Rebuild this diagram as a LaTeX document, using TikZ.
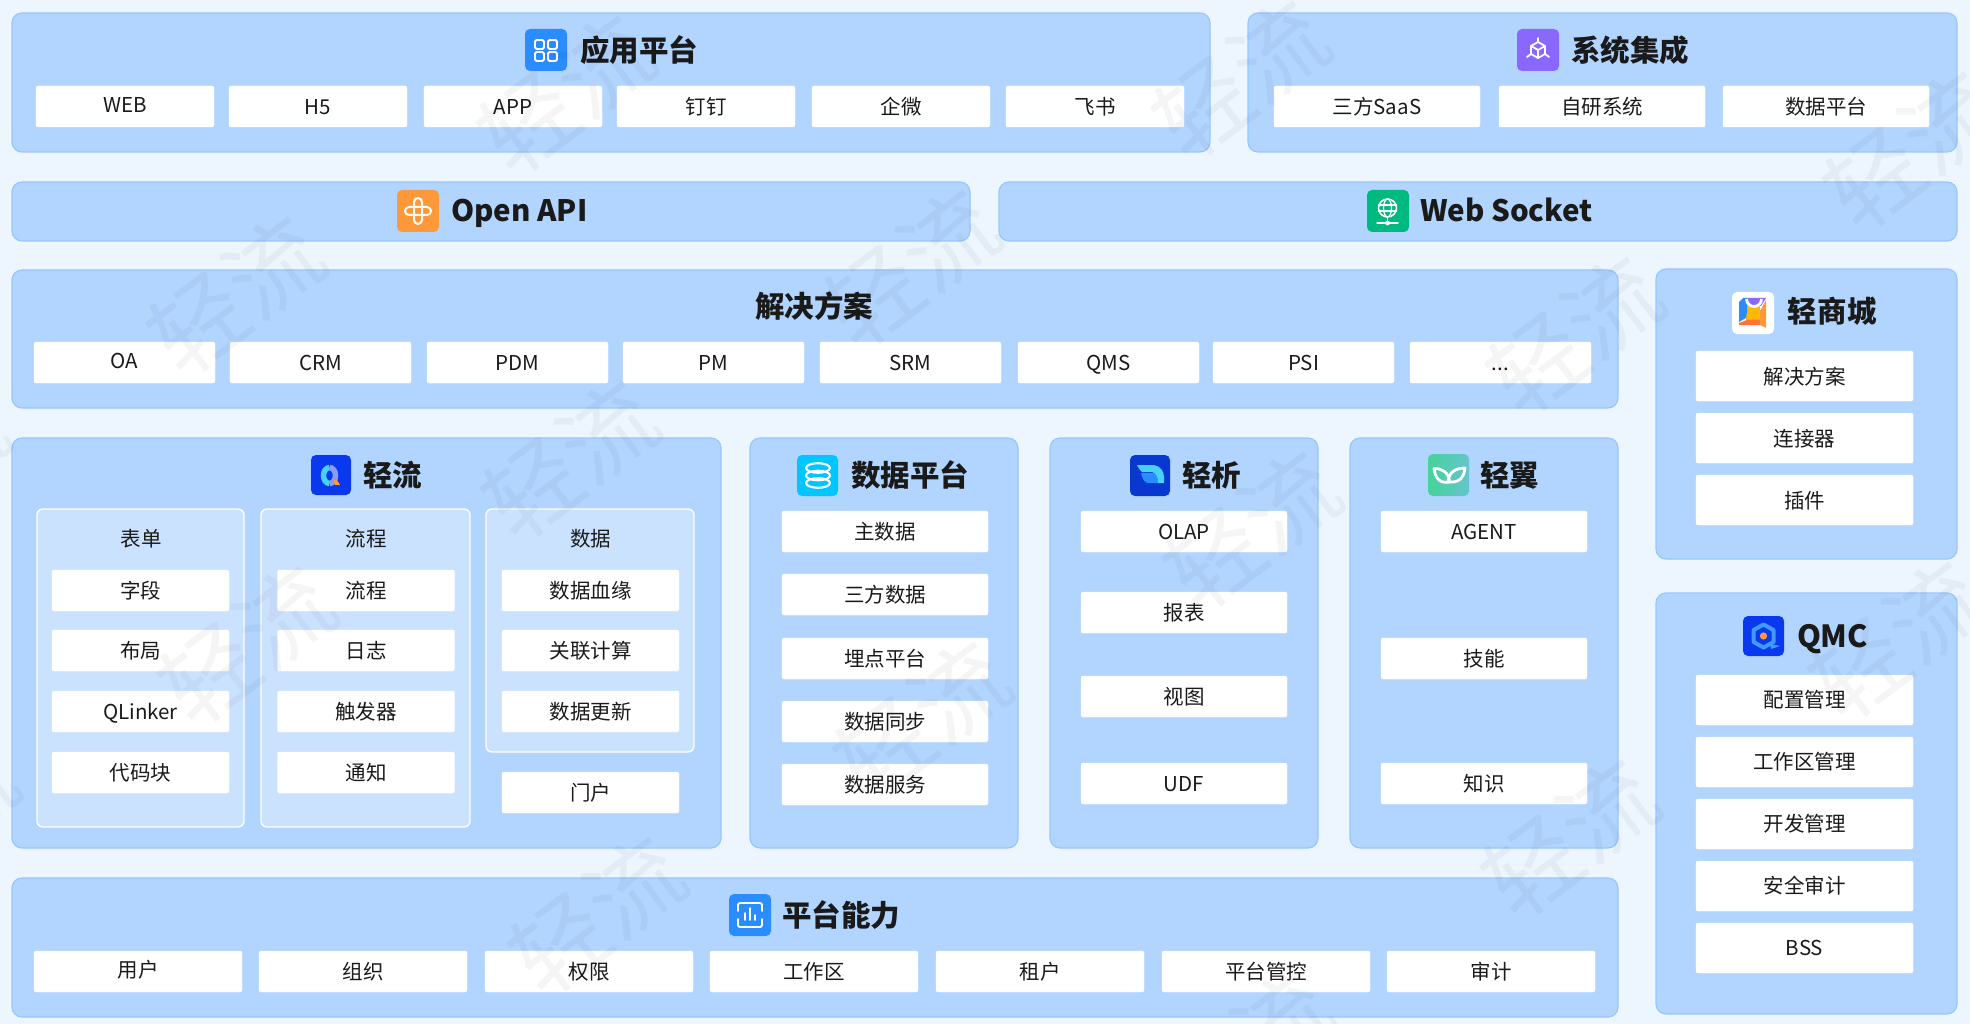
\documentclass[tikz,border=0pt]{standalone}
\usepackage{fontspec}
\setmainfont{Noto Sans CJK SC}
\definecolor{pagebg}{HTML}{EDF5FF}
\definecolor{panelfill}{HTML}{B2D5FF}
\definecolor{panelline}{HTML}{96C6FF}
\definecolor{subfill}{HTML}{CBE2FF}
\definecolor{inkdark}{HTML}{1A1A1A}
\definecolor{blueicon}{HTML}{2A8CFF}
\definecolor{purpleicon}{HTML}{8A68FF}
\definecolor{orangeicon}{HTML}{FF9838}
\definecolor{greenicon}{HTML}{00B97F}
\definecolor{cyanicon}{HTML}{00C6FF}
\definecolor{deepicon}{HTML}{0A38EE}
\definecolor{navyicon}{HTML}{0838D0}
\definecolor{skyicon}{HTML}{45D2F6}
\definecolor{lilacicon}{HTML}{8A9BF6}
\definecolor{yellowicon}{HTML}{FFB800}
\definecolor{redicon}{HTML}{FF7435}
\definecolor{hexicon}{HTML}{3F9BFF}
\definecolor{wingleft}{HTML}{45D39A}
\definecolor{wingright}{HTML}{66C4CC}
\newcommand{\moredots}{...}
\newcommand{\upnudge}[1]{\raisebox{1.5pt}{#1}}
\newcommand{\downnudge}[1]{\raisebox{-1pt}{#1}}
\tikzset{
    panelbox/.style={draw=panelline,fill=panelfill,line width=1.2pt,rounded corners=10pt},
    subbox/.style={draw=white,fill=subfill,line width=1.3pt,rounded corners=6pt},
    itembox/.style={fill=white,draw=white,line width=0.4pt,rounded corners=2pt,inner sep=0pt,outer sep=0pt,
        text=inkdark,font=\fontsize{20.5}{20.5}\selectfont,text height=15.2pt,text depth=0pt,align=center},
    titletext/.style={anchor=west,inner sep=0pt,outer sep=0pt,text=inkdark,
        font=\bfseries\fontsize{29.5}{29.5}\selectfont,text height=22pt,text depth=0pt},
    subtitle/.style={inner sep=0pt,text=inkdark,font=\fontsize{20.5}{20.5}\selectfont,text height=15.2pt,text depth=0pt},
    iconbg/.style={rounded corners=5pt},
    iconline/.style={draw=white,line width=1.8pt,line cap=round,line join=round},
    wmark/.style={rotate=37,inner sep=0pt,text=black,text opacity=0.04,font=\fontsize{94}{94}\selectfont}
}
\begin{document}
\begin{tikzpicture}[x=1pt,y=-1pt]
    \useasboundingbox (0,0) rectangle (1970,1024);
    \clip (0,0) rectangle (1970,1024);
    \fill[pagebg] (0,0) rectangle (1970,1024);
    \foreach \xa/\ya/\xb/\yb in {12/13/1210/152,1248/13/1957/152,12/182/970/241,999/182/1957/241,
        12/270/1618/408,1656/269/1957/559,12/438/721/848,750/438/1018/848,1050/438/1318/848,
        1350/438/1618/848,1656/593/1957/1014,12/878/1618/1017} {
        \draw[panelbox] (\xa,\ya) rectangle (\xb,\yb);
    }
    \foreach \xa/\xb/\yb in {37/244/827,261/470/827,486/694/752} {
        \draw[subbox] (\xa,509) rectangle (\xb,\yb);
    }
    % top rows
    \foreach \nm/\x/\lab in {web/36/\upnudge{WEB},hfive/229/H5,app/424/APP,dingding/617/钉钉,qiwei/812/企微,feishu/1006/飞书} {
        \node[itembox,minimum width=178,minimum height=41] (\nm) at (\x+89,106.5) {\lab};
    }
    \foreach \nm/\x/\lab in {saas/1274/三方SaaS,ziyan/1499/自研系统,shuju/1723/数据平台} {
        \node[itembox,minimum width=206,minimum height=41] (\nm) at (\x+103,106.5) {\lab};
    }
    \foreach \nm/\x/\lab in {oa/34/\upnudge{OA},crm/230/CRM,pdm/427/PDM,pm/623/PM,srm/820/SRM,qms/1018/QMS,psi/1213/PSI,more/1410/\moredots} {
        \node[itembox,minimum width=181,minimum height=41] (\nm) at (\x+90.5,362.5) {\lab};
    }
    % qingliu columns
    \foreach \nm/\y/\lab in {ziduan/570/字段,buju/630/布局,qlinker/691/QLinker,daima/752/代码块} {
        \node[itembox,minimum width=177,minimum height=41] (\nm) at (140.5,\y+20.5) {\lab};
    }
    \foreach \nm/\y/\lab in {liuchengb/570/流程,rizhi/630/日志,chufa/691/触发器,tongzhi/752/通知} {
        \node[itembox,minimum width=177,minimum height=41] (\nm) at (366,\y+20.5) {\lab};
    }
    \foreach \nm/\y/\lab in {xueyuan/570/数据血缘,guanlian/630/关联计算,gengxin/691/数据更新,menhu/772/门户} {
        \node[itembox,minimum width=177,minimum height=41] (\nm) at (590.5,\y+20.5) {\lab};
    }
    \node[subtitle] (biaodan) at (141,538.5) {表单};
    \node[subtitle] (liucheng) at (366,538.5) {流程};
    \node[subtitle] (shujub) at (590.5,538.5) {数据};
    % middle columns
    \foreach \nm/\y/\lab in {zhushuju/511/主数据,sanfang/574/三方数据,maidian/638/埋点平台,tongbu/701/数据同步,fuwu/764/数据服务} {
        \node[itembox,minimum width=206,minimum height=41] (\nm) at (885,\y+20.5) {\lab};
    }
    \foreach \nm/\y/\lab in {olap/511/OLAP,baobiao/592/报表,shitu/676/视图,udf/763/UDF} {
        \node[itembox,minimum width=206,minimum height=41] (\nm) at (1184,\y+20.5) {\lab};
    }
    \foreach \nm/\y/\lab in {agent/511/AGENT,jineng/638/技能,zhishi/763/知识} {
        \node[itembox,minimum width=206,minimum height=41] (\nm) at (1484,\y+20.5) {\lab};
    }
    % right columns
    \foreach \nm/\y/\lab in {jiejue/351/\downnudge{解决方案},lianjie/413/\downnudge{连接器},chajian/475/\downnudge{插件},peizhi/675/配置管理,
        gongzuo/737/工作区管理,kaifa/799/开发管理,anquan/861/安全审计,bss/923/BSS} {
        \node[itembox,minimum width=217,minimum height=50] (\nm) at (1804.5,\y+25) {\lab};
    }
    % bottom row
    \foreach \nm/\x/\lab in {yonghu/34/\upnudge{用户},zuzhi/259/组织,quanxian/485/权限,gongzuoqu/710/工作区,zuhu/936/租户,guankong/1162/平台管控,shenji/1387/审计} {
        \node[itembox,minimum width=208,minimum height=41] (\nm) at (\x+104,971.5) {\lab};
    }
    % titles
    \node[titletext] (yingyong) at (580,51) {应用平台};
    \node[titletext] (jicheng) at (1571,51) {系统集成};
    \node[titletext] (openapi) at (451,211) {Open API};
    \node[titletext] (websocket) at (1420,211) {Web Socket};
    \node[titletext] (fangan) at (755,306) {解决方案};
    \node[titletext] (shangcheng) at (1787,312) {轻\hspace{1pt}商\hspace{1pt}城};
    \node[titletext] (qingliu) at (363,475) {轻流};
    \node[titletext] (pingtai) at (851,475) {数据平台};
    \node[titletext] (qingxi) at (1182,475) {轻析};
    \node[titletext] (qingyi) at (1480,475) {轻翼};
    \node[titletext,font=\bfseries\fontsize{30.5}{30.5}\selectfont] (qmc) at (1797,636) {QMC};
    \node[titletext] (nengli) at (782,915) {平台能力};
    % icons
    \begin{scope}[shift={(525,29)}]
        \fill[blueicon,iconbg] (0,0) rectangle (42,42);
        \foreach \ix in {10,23} {
            \foreach \iy in {11,23} {
                \draw[iconline,rounded corners=1.5pt] (\ix,\iy) rectangle (\ix+9,\iy+9);
            }
        }
    \end{scope}
    \begin{scope}[shift={(1517,29)}]
        \fill[purpleicon,iconbg] (0,0) rectangle (42,42);
        \draw[iconline] (21,13) -- (28,17) -- (28,25) -- (21,29) -- (14,25) -- (14,17) -- cycle;
        \draw[iconline] (14,17) -- (21,21) -- (28,17) (21,21) -- (21,29);
        \draw[iconline] (21,13) -- (21,9) (28,25) -- (32,28) (14,25) -- (10,28);
    \end{scope}
    \begin{scope}[shift={(397,190)}]
        \fill[orangeicon,iconbg] (0,0) rectangle (42,42);
        \draw[iconline,line width=2pt,rounded corners=4pt] (17,8) rectangle (25,34);
        \draw[iconline,line width=2pt,rounded corners=4pt] (8,17) rectangle (34,25);
    \end{scope}
    \begin{scope}[shift={(1367,190)}]
        \fill[greenicon,iconbg] (0,0) rectangle (42,42);
        \draw[iconline,line width=1.5pt] (20.5,18) circle (9);
        \draw[iconline,line width=1.3pt] (20.5,18) ellipse (4 and 9);
        \draw[iconline,line width=1.3pt] (11.5,15) -- (29.5,15) (11.5,21) -- (29.5,21);
        \draw[iconline,line width=1.5pt] (20.5,27) -- (20.5,33) (10,33) -- (31,33);
        \fill[white] (20.5,33) circle (2.4);
    \end{scope}
    \begin{scope}[shift={(1732,292)}]
        \fill[white,iconbg] (0,0) rectangle (42,42);
        \fill[yellowicon] (14,11) rectangle (28,28);
        \fill[blueicon] (7,10) -- (11,6) -- (15,6) -- (15,20) -- (14,26) -- (7,30) -- cycle;
        \fill[purpleicon] (15,6) -- (34,6) -- (29,14) -- (15,14) -- cycle;
        \fill[orangeicon] (34,8) -- (34,36) -- (28,33) -- (28,19) -- cycle;
        \fill[redicon] (7,31) -- (16,27.5) -- (28,27.5) -- (28,33) -- (7,33) -- cycle;
        \draw[white,line width=2.8pt] (14.5,7) arc[start angle=180,end angle=0,radius=7.5];
    \end{scope}
    \begin{scope}[shift={(311,455)}]
        \fill[deepicon,iconbg] (0,0) rectangle (40,40);
        \draw[skyicon,line width=5.5pt] (18.5,28.5) arc[start angle=90,end angle=270,x radius=6,y radius=8];
        \draw[lilacicon,line width=5.5pt] (18.5,28.5) arc[start angle=90,end angle=-90,x radius=6,y radius=8];
        \fill[orangeicon] (22,25) -- (26,25) -- (29,30) -- (24,30) -- cycle;
    \end{scope}
    \begin{scope}[shift={(797,455)}]
        \fill[cyanicon,iconbg] (0,0) rectangle (41,41);
        \foreach \iy in {13,20.5,28} {
            \draw[iconline,line width=2.1pt] (21,\iy) ellipse (12 and 4.8);
        }
    \end{scope}
    \begin{scope}[shift={(1130,455)}]
        \fill[navyicon,iconbg] (0,0) rectangle (40,41);
        \fill[blueicon] (11,18) -- (24,18) .. controls (27,20) and (28,24) .. (28,28) -- (17,28) .. controls (13,26) and (12,22) .. (11,18) -- cycle;
        \fill[skyicon] (7,10) -- (24,10) .. controls (30,11) and (34,16) .. (34,22) -- (34,28) -- (28,28) .. controls (28,22) and (26,18) .. (22,17) -- (12,17) .. controls (10,15) and (8,13) .. (7,10) -- cycle;
    \end{scope}
    \begin{scope}[shift={(1428,454)}]
        \shade[iconbg,left color=wingleft,right color=wingright] (0,0) rectangle (41,42);
        \draw[white,line width=2.8pt,line join=round] (6,14.5) .. controls (13,14) and (21,18) .. (21.5,28) .. controls (12,30) and (7,24) .. (6,14.5) -- cycle;
        \draw[white,line width=2.8pt,line join=round] (37,14) .. controls (28,14) and (20.5,18) .. (20,28) .. controls (31,29) and (36,24) .. (37,14) -- cycle;
    \end{scope}
    \begin{scope}[shift={(1743,616)}]
        \fill[deepicon,iconbg] (0,0) rectangle (41,40);
        \fill[hexicon] (27,28) -- (37,30) -- (28,33) -- cycle;
        \draw[hexicon,line width=4pt,line join=round] (20.5,8.5) -- (30.5,14) -- (30.5,26) -- (20.5,31.5) -- (10.5,26) -- (10.5,14) -- cycle;
        \fill[orangeicon] (20.5,20) circle (3.6);
    \end{scope}
    \begin{scope}[shift={(729,894)}]
        \fill[blueicon,iconbg] (0,0) rectangle (42,42);
        \draw[iconline,rounded corners=2pt] (9,17) -- (9,9) -- (33,9) -- (33,17);
        \draw[iconline,rounded corners=2pt] (9,25) -- (9,33) -- (33,33) -- (33,25);
        \draw[iconline] (16,19) -- (16,26) (21,14) -- (21,26) (26,21) -- (26,26);
    \end{scope}
    % watermark
    \foreach \wx/\wy [count=\wi] in {566/94,1241/79,1912/150,236/295,911/268,1575/335,570/460,1252/530,1897/640,
        -80/470,247/645,922/720,1570/838,-70/820,597/915,1245/1050} {
        \node[wmark] (wm\wi) at (\wx,\wy) {轻流};
    }
\end{tikzpicture}
\end{document}
